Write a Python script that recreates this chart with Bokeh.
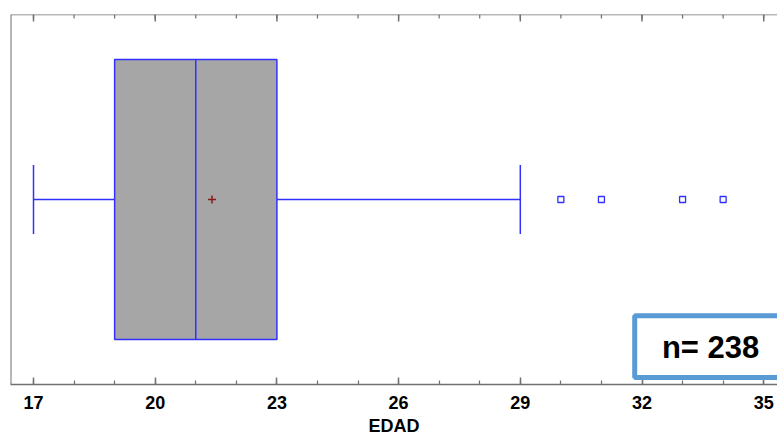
from bokeh.plotting import figure
from bokeh.models import Range1d, Span, BoxAnnotation, Label, ColumnDataSource, FixedTicker
from bokeh.embed import file_html
from bokeh.resources import INLINE

# ---- data ----
variable = "EDAD"
n_obs = 238
whisker_low = 17
q1 = 19
median = 21
q3 = 23
whisker_high = 29
mean_val = 21.4
outliers = [30, 31, 33, 34]
major_ticks = [17, 20, 23, 26, 29, 32, 35]
minor_ticks = list(range(17, 36))

# ---- style ----
BLUE = "#3030FF"
AXIS = "#707070"
FONT = "Liberation Sans"
BOX_HALF = 0.757
CAP_HALF = 0.186
MAJ_LEN = 0.038   # tick lengths of the top frame edge, in y units
MIN_LEN = 0.022

x0, x1 = 16.433, 35.34
p = figure(width=777, height=438, output_backend="svg", toolbar_location=None,
           x_range=Range1d(x0, x1), y_range=Range1d(-1, 1),
           y_axis_location=None, min_border_left=10, min_border_right=0,
           min_border_top=14, min_border_bottom=10)
p.outline_line_color = None
p.xgrid.visible = False
p.ygrid.visible = False
p.background_fill_color = "white"
p.border_fill_color = "white"

ax = p.xaxis[0]
ax.ticker = FixedTicker(ticks=major_ticks, minor_ticks=minor_ticks)
ax.axis_label = variable
ax.axis_label_text_font = FONT
ax.axis_label_text_font_style = "bold"
ax.axis_label_text_font_size = "18px"
ax.axis_label_text_color = "black"
ax.axis_label_standoff = 4
ax.major_label_text_font = FONT
ax.major_label_text_font_style = "bold"
ax.major_label_text_font_size = "18px"
ax.major_label_text_color = "black"
ax.major_label_standoff = 11
ax.axis_line_color = AXIS
ax.axis_line_width = 1.5
ax.major_tick_line_color = AXIS
ax.minor_tick_line_color = AXIS
ax.major_tick_line_width = 1.5
ax.minor_tick_line_width = 1.2
ax.major_tick_in = 7
ax.major_tick_out = 0
ax.minor_tick_in = 4
ax.minor_tick_out = 0

# frame: left and top edges
p.add_layout(Span(location=x0, dimension="height", line_color=AXIS, line_width=2))
p.add_layout(Span(location=1, dimension="width", line_color=AXIS, line_width=1.5))
p.segment(x0=minor_ticks, y0=[1] * len(minor_ticks), x1=minor_ticks,
          y1=[1 - MIN_LEN] * len(minor_ticks), line_color=AXIS, line_width=1.2)
p.segment(x0=major_ticks, y0=[1] * len(major_ticks), x1=major_ticks,
          y1=[1 - MAJ_LEN] * len(major_ticks), line_color=AXIS, line_width=1.5)

# whiskers
p.segment(x0=[whisker_low, q3], y0=[0, 0], x1=[q1, whisker_high], y1=[0, 0],
          line_color=BLUE, line_width=1.5)
p.segment(x0=[whisker_low, whisker_high], y0=[-CAP_HALF, -CAP_HALF],
          x1=[whisker_low, whisker_high], y1=[CAP_HALF, CAP_HALF],
          line_color=BLUE, line_width=1.5)

# box
p.quad(left=[q1], right=[q3], bottom=[-BOX_HALF], top=[BOX_HALF],
       fill_color="#A6A6A6", line_color=BLUE, line_width=1.5)
p.segment(x0=[median], y0=[-BOX_HALF], x1=[median], y1=[BOX_HALF],
          line_color=BLUE, line_width=1.5)

# mean
p.scatter(x=[mean_val], y=[0], marker="cross", size=8, line_color="#8B1A1A",
          line_width=1.5)

# outliers
src = ColumnDataSource(dict(x=outliers, y=[0] * len(outliers)))
p.scatter(x="x", y="y", source=src, marker="square", size=6,
          line_color=BLUE, fill_color="white", line_width=1.3)

# n box
p.add_layout(BoxAnnotation(left=31.82, right=x1 + 0.5, top=-0.628, bottom=-0.962,
                           fill_color="white", fill_alpha=1.0,
                           line_color="#5B9BD5", line_width=5, line_alpha=1.0))
p.add_layout(Label(x=33.69, y=-0.80, text="n= %d" % n_obs, text_font=FONT,
                   text_font_style="bold", text_font_size="31px",
                   text_color="black", text_align="center", text_baseline="middle"))

open("out.html", "w").write(file_html(p, INLINE))
